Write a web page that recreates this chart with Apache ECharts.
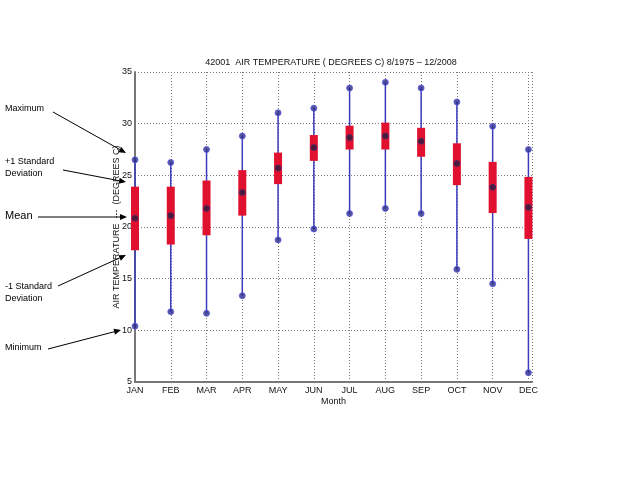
<!DOCTYPE html>
<html><head><meta charset="utf-8">
<script src="https://cdn.jsdelivr.net/npm/echarts@6/dist/echarts.min.js"></script>
<style>html,body{margin:0;padding:0;background:#fff}#c{width:636px;height:477px}</style>
</head><body><div id="c"></div>
<script>
const months = ['JAN','FEB','MAR','APR','MAY','JUN','JUL','AUG','SEP','OCT','NOV','DEC'];
const maxVals  = [26.5, 26.25, 27.5, 28.8, 31.05, 31.5, 33.45, 34.0, 33.45, 32.1, 29.75, 27.5];
const plusSD   = [23.9, 23.9, 24.5, 25.5, 27.2, 28.9, 29.8, 30.1, 29.6, 28.1, 26.3, 24.85];
const meanVals = [20.85, 21.1, 21.8, 23.35, 25.7, 27.7, 28.65, 28.8, 28.3, 26.15, 23.85, 21.9];
const minusSD  = [17.75, 18.3, 19.2, 21.1, 24.15, 26.4, 27.5, 27.5, 26.8, 24.05, 21.35, 18.85];
const minVals  = [10.4, 11.8, 11.65, 13.35, 18.75, 19.8, 21.3, 21.8, 21.3, 15.9, 14.5, 5.9];
const yTicks   = [5, 10, 15, 20, 25, 30, 35];
const titleText = '42001  AIR TEMPERATURE ( DEGREES C) 8/1975 \u2013 12/2008';
const yName = 'AIR TEMPERATURE  ---  (DEGREES C)';
const xName = 'Month';

const FONT = 'Liberation Sans, Arial, sans-serif';
const chart = echarts.init(document.getElementById('c'), null, {renderer:'canvas'});

const boxData = months.map((m, i) => [i + 1, maxVals[i], minVals[i], plusSD[i], minusSD[i]]);
const extremes = [];
months.forEach((m, i) => { extremes.push([i + 1, maxVals[i]]); extremes.push([i + 1, minVals[i]]); });
const means = months.map((m, i) => [i + 1, meanVals[i]]);

const notes = [
  {lines:['Maximum'], tx:5, ty:109, fs:9, from:[53,112], to:[126,153]},
  {lines:['+1 Standard','Deviation'], tx:5, ty:162, fs:9, from:[63,170], to:[126,182]},
  {lines:['Mean'], tx:5, ty:216, fs:11, from:[38,217], to:[127,217]},
  {lines:['-1 Standard','Deviation'], tx:5, ty:287, fs:9, from:[58,286], to:[126,255]},
  {lines:['Minimum'], tx:5, ty:348, fs:9, from:[48,349], to:[121,330]}
];
const graphics = [{
  type:'text', x:331, y:63,
  style:{text:titleText, fill:'#111', font:'9px ' + FONT, textAlign:'center', textVerticalAlign:'middle'}
}];
notes.forEach(n => {
  n.lines.forEach((t, k) => graphics.push({
    type:'text', x:n.tx, y:n.ty + k * 12,
    style:{text:t, fill:'#000', font:n.fs + 'px ' + FONT, textVerticalAlign:'middle'}
  }));
  const [x1, y1] = n.from, [x2, y2] = n.to;
  const ang = Math.atan2(y2 - y1, x2 - x1);
  const L = 7, W = 3;
  const bx = x2 - L * Math.cos(ang), by = y2 - L * Math.sin(ang);
  graphics.push({type:'line', shape:{x1, y1, x2:bx, y2:by}, style:{stroke:'#000', lineWidth:1}});
  graphics.push({type:'polygon', shape:{points:[
    [x2, y2],
    [bx + W * Math.sin(ang), by - W * Math.cos(ang)],
    [bx - W * Math.sin(ang), by + W * Math.cos(ang)]
  ]}, style:{fill:'#000'}});
});

const dotted = {color:'#777', type:[1, 2], width:1};

chart.setOption({
  animation:false,
  backgroundColor:'#fff',
  grid:{left:135, right:104, top:72, bottom:95},
  xAxis:{
    type:'value', min:1, max:12.1, interval:1,
    name:xName, nameLocation:'middle', nameGap:15, nameMoveOverlap:false,
    nameTextStyle:{fontSize:9, color:'#111', fontFamily:FONT},
    axisLine:{show:true, onZero:false, lineStyle:{color:'#777', width:2}},
    axisTick:{show:false},
    axisLabel:{fontSize:9, color:'#111', fontFamily:FONT, margin:4,
      formatter:v => Number.isInteger(v) ? months[v - 1] : ''},
    splitLine:{show:true, lineStyle:dotted}
  },
  yAxis:{
    type:'value', min:yTicks[0], max:yTicks[yTicks.length - 1], interval:5,
    name:yName, nameLocation:'middle', nameGap:14, nameMoveOverlap:false,
    nameTextStyle:{fontSize:9, color:'#111', fontFamily:FONT},
    axisLine:{show:true, lineStyle:{color:'#777', width:2}},
    axisTick:{show:false},
    axisLabel:{fontSize:9, color:'#111', fontFamily:FONT, margin:3},
    splitLine:{show:true, lineStyle:dotted}
  },
  series:[
    {
      type:'custom', data:boxData, z:2,
      renderItem:(params, api) => {
        const x = api.value(0);
        const pMax = api.coord([x, api.value(1)]);
        const pMin = api.coord([x, api.value(2)]);
        const pTop = api.coord([x, api.value(3)]);
        const pBot = api.coord([x, api.value(4)]);
        return {type:'group', children:[
          {type:'line', shape:{x1:pMax[0], y1:pMax[1], x2:pMin[0], y2:pMin[1]},
            style:{stroke:'#3b3bbd', lineWidth:1.5}},
          {type:'rect', shape:{x:pTop[0] - 4, y:pTop[1], width:8, height:pBot[1] - pTop[1]},
            style:{fill:'#e0102e'}}
        ]};
      }
    },
    {
      type:'scatter', data:extremes, symbol:'circle', symbolSize:6, z:3,
      itemStyle:{color:'#2a2a85', borderColor:'#5a5ae6', borderWidth:1}
    },
    {
      type:'scatter', data:means, symbol:'circle', symbolSize:6, z:4,
      itemStyle:{color:'#2a1a3a', borderColor:'#4a2a70', borderWidth:1}
    }
  ],
  graphic:graphics
});
</script></body></html>
